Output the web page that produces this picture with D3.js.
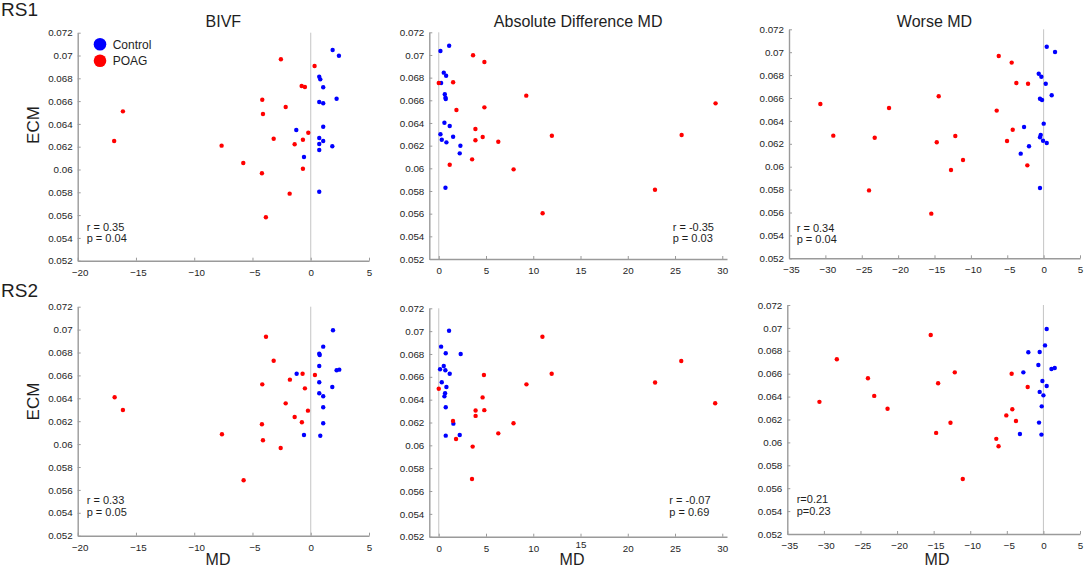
<!DOCTYPE html>
<html><head><meta charset="utf-8">
<script src="https://cdn.jsdelivr.net/npm/d3@7"></script>
<style>
html,body{margin:0;padding:0;background:#fff;}
svg{display:block;font-family:"Liberation Sans",Arial,Helvetica,sans-serif;}
</style></head>
<body>
<svg id="chart" width="1084" height="568"></svg>
<script>
// ---------- DATA ----------
const rowLabels = ["RS1", "RS2"];
const colTitles = ["BIVF", "Absolute Difference MD", "Worse MD"];
const groupNames = ["Control", "POAG"];
const yTickValues = [0.052, 0.054, 0.056, 0.058, 0.06, 0.062, 0.064, 0.066, 0.068, 0.07, 0.072];
const yTickLabels = ["0.052", "0.054", "0.056", "0.058", "0.06", "0.062", "0.064", "0.066", "0.068", "0.07", "0.072"];
const xTicksBIVF = [-20, -15, -10, -5, 0, 5];
const xTicksAbs = [0, 5, 10, 15, 20, 25, 30];
const xTicksWorse = [-35, -30, -25, -20, -15, -10, -5, 0, 5];
const statsText = [
  ["r = 0.35", "p = 0.04"], ["r = -0.35", "p = 0.03"], ["r = 0.34", "p = 0.04"],
  ["r = 0.33", "p = 0.05"], ["r = -0.07", "p = 0.69"], ["r=0.21", "p=0.23"]
];

// RS1 – BIVF  [MD, ECM]
const rs1BivfControl = [[1.88,0.07048],[2.42,0.06998],[0.73,0.06814],[0.82,0.06791],[1.07,0.06721],[2.22,0.06621],[0.73,0.06592],[1.07,0.06581],[1.07,0.06375],[-1.24,0.06346],[0.73,0.06276],[1.07,0.06250],[0.73,0.06224],[1.85,0.06204],[0.73,0.06171],[-0.58,0.06110],[0.73,0.05805]];
const rs1BivfPoag = [[-2.56,0.06967],[0.33,0.06908],[-0.78,0.06732],[-0.50,0.06724],[-4.16,0.06612],[-2.15,0.06548],[-16.12,0.06510],[-4.10,0.06487],[-0.21,0.06323],[-3.18,0.06270],[-0.67,0.06261],[-16.87,0.06250],[-1.38,0.06221],[-7.65,0.06209],[-5.79,0.06057],[-0.67,0.06007],[-4.19,0.05967],[-1.81,0.05788],[-3.85,0.05581]];
// RS1 – Absolute Difference MD
const rs1AbsControl = [[1.10,0.07082],[0.18,0.07035],[0.53,0.06844],[0.78,0.06817],[0.25,0.06753],[0.64,0.06653],[0.71,0.06623],[0.74,0.06611],[0.60,0.06402],[1.16,0.06373],[0.18,0.06300],[0.32,0.06252],[1.52,0.06279],[0.81,0.06229],[2.29,0.06199],[2.22,0.06132],[0.71,0.05829]];
const rs1AbsPoag = [[3.63,0.06997],[4.83,0.06938],[0.0,0.06753],[1.52,0.06759],[9.26,0.06641],[4.83,0.06538],[1.87,0.06514],[29.29,0.06573],[3.88,0.06347],[3.88,0.06247],[4.65,0.06276],[11.97,0.06288],[25.70,0.06294],[6.30,0.06235],[1.16,0.06032],[3.53,0.06079],[7.92,0.05991],[22.88,0.05811],[10.99,0.05603]];
// RS1 – Worse MD
const rs1WorseControl = [[0.43,0.07048],[1.57,0.07002],[-0.67,0.06812],[-0.31,0.06786],[0.29,0.06725],[1.11,0.06624],[-0.50,0.06594],[-0.22,0.06583],[0.01,0.06376],[-2.69,0.06347],[-0.40,0.06277],[-0.50,0.06257],[-0.08,0.06227],[0.43,0.06207],[-2.01,0.06178],[-3.15,0.06114],[-0.50,0.05814]];
const rs1WorsePoag = [[-6.17,0.06967],[-4.39,0.06909],[-3.75,0.06731],[-2.14,0.06725],[-14.42,0.06615],[-6.45,0.06490],[-21.25,0.06513],[-30.69,0.06548],[-4.25,0.06323],[-12.14,0.06268],[-28.91,0.06271],[-23.22,0.06253],[-5.03,0.06224],[-14.69,0.06213],[-11.08,0.06058],[-2.24,0.06012],[-12.73,0.05971],[-24.0,0.05793],[-15.44,0.05590]];
// RS2 – BIVF
const rs2BivfControl = [[1.91,0.06994],[1.07,0.06851],[0.73,0.06790],[0.77,0.06778],[0.73,0.06682],[-1.21,0.06615],[2.22,0.06645],[2.45,0.06650],[0.73,0.06540],[1.85,0.06499],[0.73,0.06444],[1.07,0.06418],[1.07,0.06322],[1.07,0.06182],[-0.58,0.06079],[0.82,0.06073]];
const rs2BivfPoag = [[-3.84,0.06938],[-3.18,0.06728],[-0.70,0.06615],[0.36,0.06604],[-1.79,0.06563],[-4.16,0.06522],[-0.50,0.06487],[-16.83,0.06409],[-16.12,0.06298],[-2.15,0.06356],[-0.24,0.06292],[-1.38,0.06237],[-0.76,0.06191],[-4.19,0.06173],[-7.62,0.06086],[-4.10,0.06033],[-2.58,0.05966],[-5.76,0.05684]];
// RS2 – Absolute Difference MD
const rs2AbsControl = [[1.09,0.07004],[0.25,0.06864],[0.74,0.06806],[2.32,0.06800],[0.53,0.06695],[0.14,0.06666],[0.70,0.06657],[1.16,0.06627],[0.32,0.06552],[0.81,0.06511],[0.67,0.06456],[0.60,0.06429],[0.74,0.06333],[1.55,0.06190],[0.74,0.06085],[2.22,0.06091]];
const rs2AbsPoag = [[10.97,0.06951],[25.66,0.06739],[11.95,0.06627],[4.78,0.06616],[9.28,0.06534],[22.89,0.06550],[0.0,0.06496],[4.64,0.06420],[29.25,0.06368],[3.90,0.06305],[4.82,0.06308],[3.90,0.06258],[1.51,0.06213],[7.91,0.06194],[6.30,0.06105],[1.83,0.06056],[3.59,0.05989],[3.52,0.05705]];
// RS2 – Worse MD
const rs2WorseControl = [[0.45,0.06990],[0.22,0.06847],[-2.06,0.06787],[-0.51,0.06790],[-0.69,0.06676],[-2.74,0.06612],[1.10,0.06641],[1.55,0.06650],[-0.14,0.06536],[0.45,0.06493],[-0.51,0.06441],[0.0,0.06411],[-0.23,0.06315],[-0.60,0.06173],[-3.21,0.06074],[-0.27,0.06068]];
const rs2WorsePoag = [[-15.40,0.06938],[-28.23,0.06726],[-12.11,0.06612],[-4.34,0.06600],[-23.98,0.06560],[-14.39,0.06516],[-2.15,0.06484],[-23.12,0.06406],[-30.61,0.06354],[-21.30,0.06294],[-4.25,0.06289],[-5.07,0.06236],[-3.75,0.06187],[-12.70,0.06172],[-14.66,0.06083],[-6.44,0.06031],[-6.13,0.05967],[-11.02,0.05681]];

// ---------- LAYOUT ----------
const colors = ["#0000ff", "#ff0000"];
const font = '"Liberation Sans",Arial,Helvetica,sans-serif';
const panels = [
  {ctrl: rs1BivfControl, poag: rs1BivfPoag, xd: [-20, 5], xt: xTicksBIVF, xr: [77.7, 369], yr: [260.7, 32.7], stats: [86.7, 230.5], legend: true, title: 0},
  {ctrl: rs1AbsControl, poag: rs1AbsPoag, xd: [-1, 30.5], xt: xTicksAbs, xr: [429.3, 727], yr: [259, 32.3], stats: [672.7, 230.5], title: 1},
  {ctrl: rs1WorseControl, poag: rs1WorsePoag, xd: [-35, 5], xt: xTicksWorse, xr: [789, 1080], yr: [258.3, 29.3], stats: [796.7, 231.5], title: 2},
  {ctrl: rs2BivfControl, poag: rs2BivfPoag, xd: [-20, 5], xt: xTicksBIVF, xr: [77.7, 369], yr: [535.7, 306.7], stats: [86.7, 504], xlabel: 218},
  {ctrl: rs2AbsControl, poag: rs2AbsPoag, xd: [-1, 30.5], xt: xTicksAbs, xr: [429.3, 727], yr: [536.7, 308.3], stats: [669.3, 504], xlabel: 572, raise15: true},
  {ctrl: rs2WorseControl, poag: rs2WorsePoag, xd: [-35, 5], xt: xTicksWorse, xr: [787.3, 1080], yr: [534, 305], stats: [796.7, 503], xlabel: 937}
];

const svg = d3.select("#chart");
const axisColor = "#9a9a9a";
const textColor = "#1e1e1e";

panels.forEach((p, i) => {
  const x = d3.scaleLinear().domain(p.xd).range(p.xr);
  const y = d3.scaleLinear().domain([0.052, 0.072]).range(p.yr);
  const g = svg.append("g");

  // zero reference line
  g.append("line")
    .attr("x1", x(0)).attr("x2", x(0))
    .attr("y1", y(0.072)).attr("y2", y(0.052))
    .attr("stroke", "#c4c4c4").attr("stroke-width", 1);

  // y axis
  const yAxis = d3.axisLeft(y).tickValues(yTickValues)
    .tickFormat((d, k) => yTickLabels[k]).tickSizeInner(-3).tickSizeOuter(0).tickPadding(5);
  const ya = g.append("g").attr("transform", `translate(${p.xr[0]},0)`).call(yAxis);
  // x axis
  const xAxis = d3.axisBottom(x).tickValues(p.xt).tickFormat(d3.format("d"))
    .tickSizeInner(-3).tickSizeOuter(0).tickPadding(8);
  const xa = g.append("g").attr("transform", `translate(0,${p.yr[0]})`).call(xAxis);
  [ya, xa].forEach(a => {
    a.select(".domain").attr("stroke", axisColor).attr("stroke-width", 1.4);
    a.selectAll(".tick line").attr("stroke", axisColor);
    a.selectAll(".tick text").attr("fill", textColor).style("font-size", "9.8px").style("font-family", font);
  });
  xa.selectAll(".tick text").attr("dx", d => d < 0 ? "2px" : "0");
  if (p.raise15) xa.selectAll(".tick text").filter(d => d === 15).attr("y", 4);

  // points
  [p.ctrl, p.poag].forEach((arr, gi) => {
    g.selectAll(null).data(arr).enter().append("circle")
      .attr("cx", d => x(d[0])).attr("cy", d => y(d[1]))
      .attr("r", 2.2).attr("fill", colors[gi]);
  });

  // stats text
  statsText[i].forEach((t, k) => {
    g.append("text").attr("x", p.stats[0]).attr("y", p.stats[1] + k * 11.7)
      .attr("fill", textColor).style("font-size", "11px").style("font-family", font).text(t);
  });

  // titles
  if (p.title !== undefined) {
    g.append("text").attr("x", (p.xr[0] + p.xr[1]) / 2).attr("y", 26.5)
      .attr("text-anchor", "middle").attr("fill", textColor)
      .style("font-size", "16px").style("font-family", font).text(colTitles[p.title]);
  }
  if (p.xlabel !== undefined) {
    g.append("text").attr("x", p.xlabel).attr("y", 565)
      .attr("text-anchor", "middle").attr("fill", textColor)
      .style("font-size", "16px").style("font-family", font).text("MD");
  }
  if (p.legend) {
    groupNames.forEach((nm, k) => {
      g.append("circle").attr("cx", 100).attr("cy", 44.3 + k * 16.4).attr("r", 6.3).attr("fill", colors[k]);
      g.append("text").attr("x", 112.7).attr("y", 48.5 + k * 16.4).attr("fill", textColor)
        .style("font-size", "12px").style("font-family", font).text(nm);
    });
  }
});

// row labels & y labels
[[16, 125], [296.7, 401.5]].forEach((pos, r) => {
  svg.append("text").attr("x", 1).attr("y", pos[0]).attr("fill", textColor)
    .style("font-size", "19px").style("font-family", font).text(rowLabels[r]);
  svg.append("text").attr("transform", `translate(38.5,${pos[1]}) rotate(-90)`)
    .attr("text-anchor", "middle").attr("fill", textColor)
    .style("font-size", "17px").style("font-family", font).text("ECM");
});
</script>
</body></html>
